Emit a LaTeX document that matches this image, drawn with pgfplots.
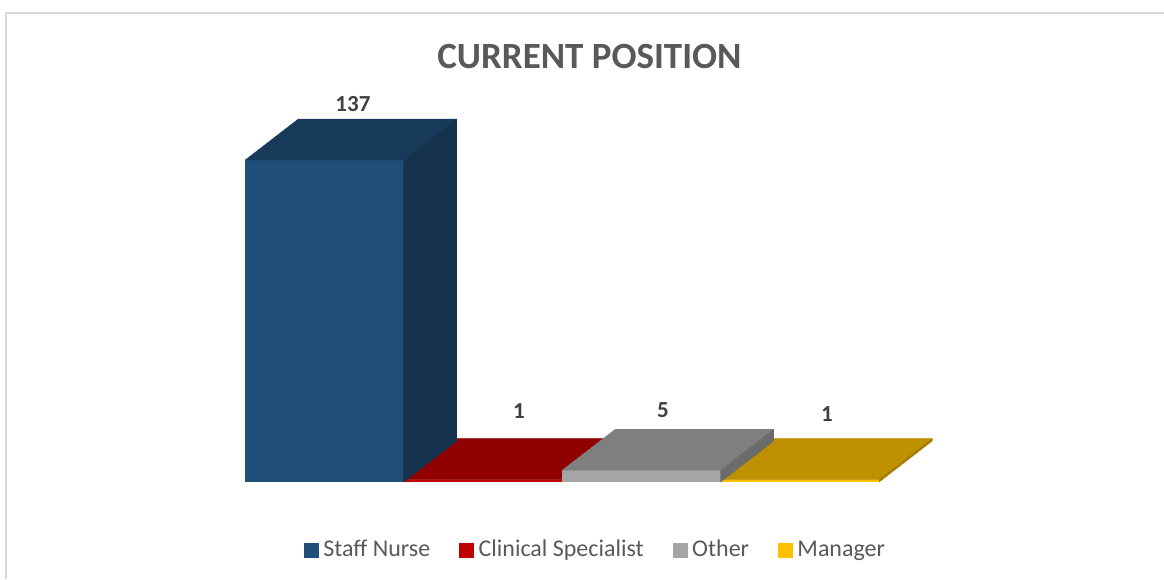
\documentclass[border=0pt]{standalone}
\usepackage{fontspec}
\setmainfont{Carlito}
\usepackage{pgfplots}
\pgfplotsset{compat=1.18}
\definecolor{bfront}{HTML}{1F4E79}\definecolor{btop}{HTML}{173A5B}\definecolor{bside}{HTML}{15324E}
\definecolor{rfront}{HTML}{C00000}\definecolor{rtop}{HTML}{900000}\definecolor{rside}{HTML}{7A0000}
\definecolor{gfront}{HTML}{A5A5A5}\definecolor{gtop}{HTML}{7F7F7F}\definecolor{gside}{HTML}{6B6B6B}
\definecolor{yfront}{HTML}{FFC000}\definecolor{ytop}{HTML}{BF9000}\definecolor{yside}{HTML}{A37B00}
\definecolor{txt}{HTML}{595959}\definecolor{lab}{HTML}{404040}\definecolor{frame}{HTML}{D9D9D9}
\begin{document}
\begin{tikzpicture}
\useasboundingbox (0,0) rectangle (1164pt,579pt);
\begin{axis}[
  scale only axis, width=1164pt, height=579pt,
  xmin=-2.047, xmax=5.297, ymin=-41.28, ymax=205.1,
  axis lines=none,
  legend style={at={(axis cs:-0.131,-29.2)}, anchor=west, draw=none, fill=none, font=\fontsize{24}{26}\selectfont\color{txt}, legend columns=-1, inner sep=0pt,
    /tikz/every even column/.append style={column sep=29pt},
    /tikz/every odd column/.append style={column sep=5pt},
    nodes={inner sep=0pt,text height=16pt,text depth=5pt}},
  legend image code/.code={\fill[#1] (0pt,-7pt) rectangle (14pt,7pt);},
]
\addlegendimage{bfront}\addlegendentry{Staff Nurse}
\addlegendimage{rfront}\addlegendentry{Clinical Specialist}
\addlegendimage{gfront}\addlegendentry{Other}
\addlegendimage{yfront}\addlegendentry{Manager}
\draw[frame,line width=1.6pt] (axis cs:-2.0095,-41.28) -- (axis cs:-2.0095,199.6) -- (axis cs:5.297,199.6);
% Manager = 1
\addplot[forget plot,ybar,bar width=158.5pt,bar shift=0pt,fill=yfront,draw=none] coordinates {(3,1)};
\addplot[forget plot,fill=ytop,draw=ytop,line width=0.3pt] coordinates {(2.5,1) (2.835,18.45) (3.835,18.45) (3.5,1)} -- cycle;
\addplot[forget plot,fill=yside,draw=yside,line width=0.3pt] coordinates {(3.5,1) (3.835,18.45) (3.835,17.45) (3.5,0)} -- cycle;
% Clinical Specialist = 1
\addplot[forget plot,ybar,bar width=158.5pt,bar shift=0pt,fill=rfront,draw=none] coordinates {(1,1)};
\addplot[forget plot,fill=rtop,draw=rtop,line width=0.3pt] coordinates {(0.5,1) (0.835,18.45) (1.835,18.45) (1.5,1)} -- cycle;
\addplot[forget plot,fill=rside,draw=rside,line width=0.3pt] coordinates {(1.5,1) (1.835,18.45) (1.835,17.45) (1.5,0)} -- cycle;
% Other = 5
\addplot[forget plot,ybar,bar width=158.5pt,bar shift=0pt,fill=gfront,draw=none] coordinates {(2,5)};
\addplot[forget plot,fill=gtop,draw=gtop,line width=0.3pt] coordinates {(1.5,5) (1.835,22.45) (2.835,22.45) (2.5,5)} -- cycle;
\addplot[forget plot,fill=gside,draw=gside,line width=0.3pt] coordinates {(2.5,5) (2.835,22.45) (2.835,17.45) (2.5,0)} -- cycle;
% Staff Nurse = 137
\addplot[forget plot,ybar,bar width=158.5pt,bar shift=0pt,fill=bfront,draw=none] coordinates {(0,137)};
\addplot[forget plot,fill=btop,draw=btop,line width=0.3pt] coordinates {(-0.5,137) (-0.165,154.45) (0.835,154.45) (0.5,137)} -- cycle;
\addplot[forget plot,fill=bside,draw=bside,line width=0.3pt] coordinates {(0.5,137) (0.835,154.45) (0.835,17.45) (0.5,0)} -- cycle;
\node[text=txt,font=\fontsize{37}{39}\selectfont\bfseries] at (axis cs:1.672,180.85) {CURRENT POSITION};
\foreach \x/\y/\t in {0.18/160.85/137,1.227/30.2/1,2.136/30.6/5,3.17/28.9/1}{
  \edef\tmp{\noexpand\node[text=lab,font=\noexpand\fontsize{23}{25}\noexpand\selectfont\noexpand\bfseries] at (axis cs:\x,\y) {\t};}\tmp
}
\end{axis}
\end{tikzpicture}
\end{document}
